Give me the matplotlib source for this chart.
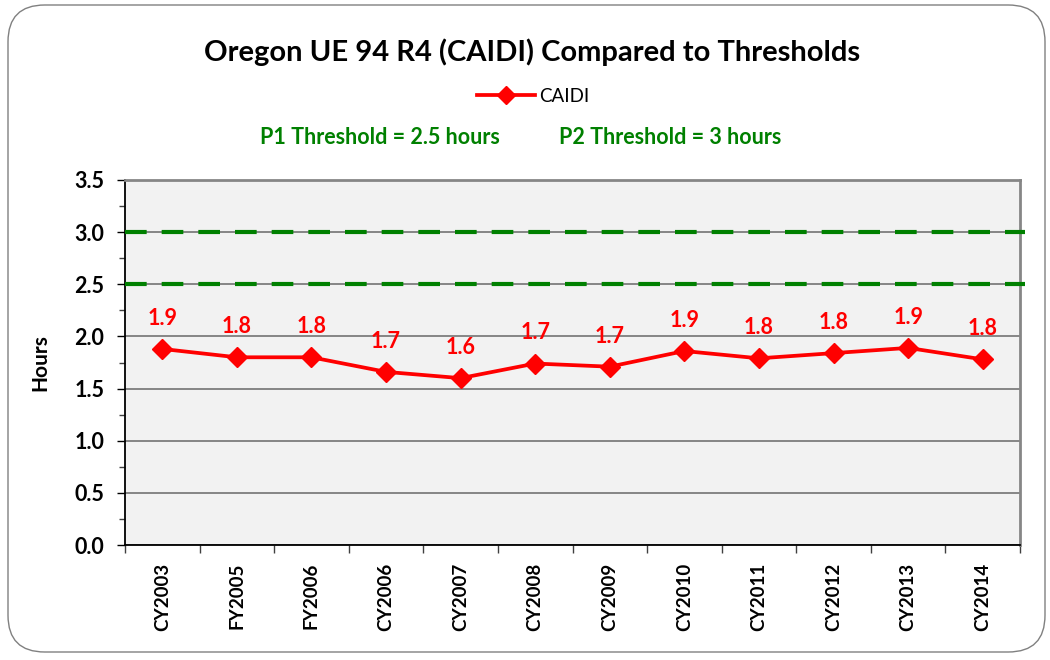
import matplotlib
matplotlib.use("Agg")
import matplotlib.pyplot as plt
from matplotlib.patches import FancyBboxPatch
from matplotlib.ticker import MultipleLocator, FixedLocator
import numpy as np

plt.rcParams['font.family'] = ['Lato', 'DejaVu Sans']

categories = ["CY2003", "FY2005", "FY2006", "CY2006", "CY2007", "CY2008",
              "CY2009", "CY2010", "CY2011", "CY2012", "CY2013", "CY2014"]
caidi = [1.88, 1.80, 1.80, 1.66, 1.60, 1.74, 1.71, 1.86, 1.79, 1.84, 1.89, 1.78]
p1_threshold = 2.5
p2_threshold = 3.0
y_ticks = [0.0, 0.5, 1.0, 1.5, 2.0, 2.5, 3.0, 3.5]

W, H = 1050, 660
fig = plt.figure(figsize=(W / 100, H / 100), dpi=100)
fig.patch.set_facecolor('white')

# rounded outer border
border = FancyBboxPatch((8 / W, 8 / H), (1045 - 8) / W, (655 - 8) / H,
                        boxstyle="round,pad=0,rounding_size=0.035",
                        transform=fig.transFigure, facecolor='none',
                        edgecolor='#808080', linewidth=1.0, mutation_aspect=W / H)
fig.patches.append(border)

ax = fig.add_axes([125 / W, (H - 545) / H, (1020 - 125) / W, (545 - 180) / H])
ax.set_facecolor('#F2F2F2')

x = np.arange(len(categories))
ax.set_xlim(-0.5, len(categories) - 0.5)
ax.set_ylim(0, 3.5)

# gridlines
ax.yaxis.set_major_locator(FixedLocator(y_ticks))
ax.yaxis.set_minor_locator(MultipleLocator(0.25))
ax.grid(axis='y', which='major', color='#868686', linewidth=1.4, zorder=1)
ax.set_axisbelow(True)

# thresholds
for th in (p1_threshold, p2_threshold):
    ax.axhline(th, xmin=0, xmax=1.006, color='#008000', linewidth=3.0,
               dashes=(5.2, 3.6), clip_on=False, zorder=3)

# data series
ax.plot(x, caidi, color='#FF0000', linewidth=2.7, marker='D', markersize=10,
        markeredgecolor='#FF0000', markerfacecolor='#FF0000', zorder=4,
        label='CAIDI', clip_on=False)

for xi, v in zip(x, caidi):
    ax.annotate(f"{v:.1f}", (xi, v), xytext=(0, 22), textcoords='offset points',
                ha='center', va='center', color='#FF0000', fontsize=15.5,
                fontweight='bold')

# spines
for s in ('top', 'right'):
    ax.spines[s].set_color('#868686')
    ax.spines[s].set_linewidth(2.0)
for s in ('left', 'bottom'):
    ax.spines[s].set_color('black')
    ax.spines[s].set_linewidth(1.3)

# ticks
ax.set_xticks(x)
ax.set_xticklabels(categories, rotation=90, fontsize=13.5, fontweight='bold')
ax.xaxis.set_minor_locator(FixedLocator(np.arange(-0.5, len(categories), 1.0)))
ax.tick_params(axis='x', which='major', length=0, pad=13)
ax.tick_params(axis='x', which='minor', length=6, width=1, color='#404040',
               direction='out')
ax.set_yticklabels([f"{t:.1f}" for t in y_ticks], fontsize=15.5, fontweight='bold')
ax.tick_params(axis='y', which='major', length=6, width=1, direction='out', pad=9)
ax.tick_params(axis='y', which='minor', length=4, width=1, color='#404040',
               direction='out')

ax.set_ylabel('Hours', fontsize=15, fontweight='bold', labelpad=17)

# title and legend
fig.text(532 / W, 1 - 52 / H, 'Oregon UE 94 R4 (CAIDI) Compared to Thresholds',
         ha='center', va='center', fontsize=21, fontweight='bold')
leg = fig.legend(handles=ax.get_lines()[-1:], labels=['CAIDI'],
                 loc='center', bbox_to_anchor=(533 / W, 1 - 96 / H),
                 frameon=False, fontsize=13.5, handlelength=3.1,
                 handletextpad=0.2, markerscale=0.9)
fig.text(380 / W, 1 - 137 / H, f'P1 Threshold = {p1_threshold:g} hours',
         ha='center', va='center', fontsize=15.5, fontweight='bold',
         color='#008000')
fig.text(670 / W, 1 - 137 / H, f'P2 Threshold = {p2_threshold:g} hours',
         ha='center', va='center', fontsize=15.5, fontweight='bold',
         color='#008000')

fig.savefig('out.png', dpi=100)
